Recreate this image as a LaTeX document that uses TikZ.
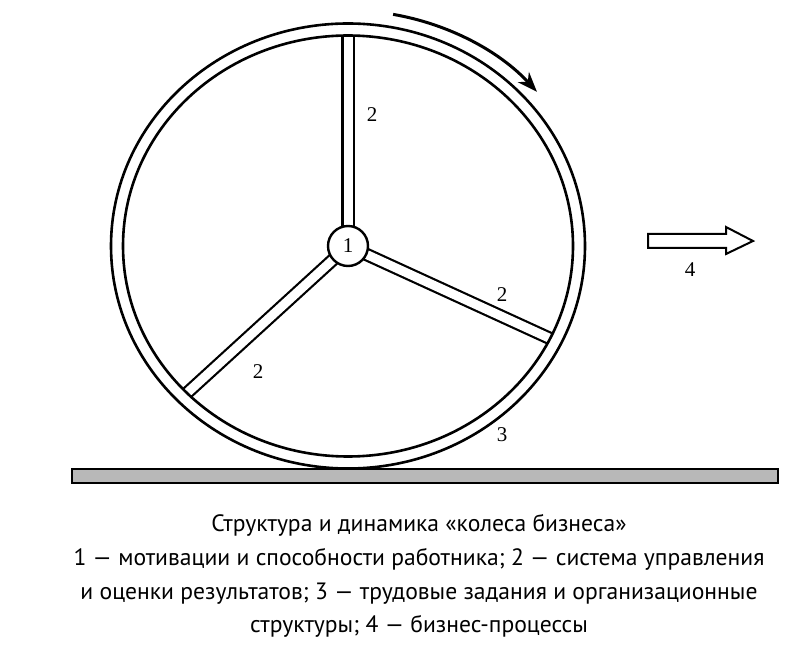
\documentclass[tikz,border=0pt]{standalone}
\usepackage{fontspec}
\setmainfont{Liberation Serif}
\newfontfamily\captionfont{PT Sans}
\usetikzlibrary{arrows.meta}
\tikzset{ rim/.style = { draw % wheel rim
        , line width = 2.6pt
        }
        , num/.style = { inner sep = 0pt % number label
        , font = \fontsize{21}{21}\selectfont
        }
        , captext/.style = { align = center % caption below
        , inner sep = 0pt
        , font = \captionfont\fontsize{23.6}{33.9}\selectfont
        }
        }

\begin{document}
\begin{tikzpicture}[x=1pt, y=1pt,
        hub_style/.style={circle,draw,line width=2.4pt,fill=white,minimum size=40pt,inner sep=0pt,font=\fontsize{21}{21}\selectfont},
        spoke_style/.style={draw=black,line width=2.2pt,double=white,double distance=9pt},
        ground_style/.style={draw=black,line width=2pt,fill=black!28},
        turn_style/.style={draw=black,line width=3pt,-{Stealth[length=20pt,width=15pt]}},
        move_style/.style={draw=black,line width=2pt,fill=white}]
        \useasboundingbox (0,0) rectangle (800,654);
        \coordinate (c) at (348,408);

        % spokes
        \begin{scope}
        \clip (c) ellipse [x radius=225, y radius=210.5];
        \draw [spoke_style] (c) -- ++(90:300);
        \draw [spoke_style] (c) -- ++(-24.6:300);
        \draw [spoke_style] (c) -- ++(222.4:300);
        \end{scope}

        % rim
        \draw [rim] (c) ellipse [x radius=237, y radius=222.5];
        \draw [rim] (c) ellipse [x radius=225, y radius=210.5];
        \node [hub_style] (hub) at (c) {1};

        % rotation
        \draw [turn_style] (c) ++(79.6:250 and 235.5) arc[start angle=79.6, end angle=40.9, x radius=250, y radius=235.5];

        % ground
        \draw [ground_style] (72,171) rectangle (778,185);

        % motion
        \coordinate (m) at (648,413);
        \draw [move_style] (m) ++(0,-7) -- ++(78,0) -- ++(0,-6) -- ++(27,13) -- ++(-27,14) -- ++(0,-7) -- ++(-78,0) -- cycle;

        \node [num] (s1) at (372,539) {2};
        \node [num] (s2) at (502,359) {2};
        \node [num] (s3) at (258,282) {2};
        \node [num] (r) at (502,219) {3};
        \node [num] (p) at (690,384) {4};

        \node [captext] (caption) at (419,78) {Структура и динамика «колеса бизнеса»\\
        1 — мотивации и способности работника; 2 — система управления\\
        и оценки результатов; 3 — трудовые задания и организационные\\
        структуры; 4 — бизнес-процессы};
\end{tikzpicture}
\end{document}
